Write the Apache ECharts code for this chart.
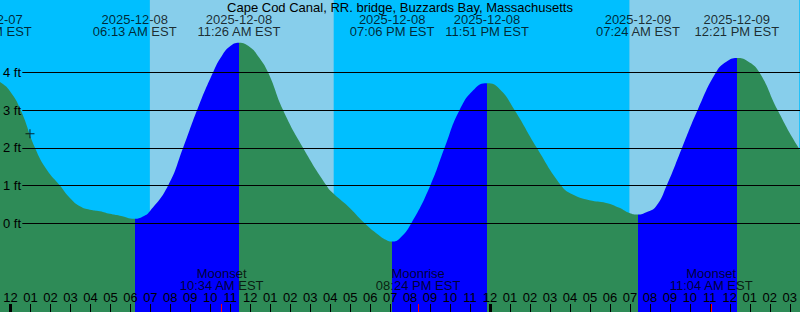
<!DOCTYPE html>
<html><head><meta charset="utf-8">
<script src="https://cdn.jsdelivr.net/npm/echarts@6/dist/echarts.min.js"></script>
<style>html,body{margin:0;padding:0;background:#00BFFF}#c{width:800px;height:312px}</style>
</head><body><div id="c"></div><script>
const titleText = 'Cape Cod Canal, RR. bridge, Buzzards Bay, Massachusetts';
// time axis: hours from 2025-12-08 00:00 EST
const tideHours = [-1.075, -0.525, -0.025, 0.51, 1.225, 1.825, 2.475, 2.975, 3.475, 3.975, 4.475, 4.975, 5.475, 6.217, 6.625, 6.975, 7.89, 8.64, 9.34, 10.14, 10.575, 10.975, 11.433, 11.975, 12.375, 12.89, 13.64, 14.64, 15.81, 16.175, 16.89, 17.725, 18.39, 18.725, 19.1, 19.475, 20.06, 21.01, 21.725, 22.475, 23.225, 23.85, 24.475, 25.225, 26.34, 27.56, 28.14, 28.975, 29.81, 30.475, 30.975, 31.4, 31.825, 32.31, 32.84, 33.61, 34.39, 35.31, 35.825, 36.35, 36.875, 37.475, 38.39, 39.44, 40.475];
const tideFeet  = [3.90, 3.74, 3.50, 3.00, 2.00, 1.41, 1.00, 0.67, 0.45, 0.36, 0.32, 0.25, 0.20, 0.12, 0.18, 0.32, 1.00, 2.00, 3.00, 4.00, 4.43, 4.68, 4.78, 4.67, 4.44, 4.00, 3.00, 2.00, 1.00, 0.78, 0.45, 0.00, -0.30, -0.42, -0.48, -0.40, 0.00, 1.00, 2.00, 3.00, 3.56, 3.71, 3.56, 3.00, 2.00, 1.00, 0.76, 0.61, 0.54, 0.41, 0.27, 0.23, 0.29, 0.45, 1.00, 2.00, 3.00, 4.00, 4.28, 4.38, 4.30, 4.00, 3.00, 2.00, 1.20];
const eventHours = [-1.05, 6.217, 11.433, 19.1, 23.85, 31.4, 36.35];
const eventDates = ['2025-12-07', '2025-12-08', '2025-12-08', '2025-12-08', '2025-12-08', '2025-12-09', '2025-12-09'];
const eventClock = ['10:57 PM EST', '06:13 AM EST', '11:26 AM EST', '07:06 PM EST', '11:51 PM EST', '07:24 AM EST', '12:21 PM EST'];
const risingStart = [6.217, 19.1, 31.4];
const risingEnd = [11.433, 23.85, 36.35];
const moonHours = [10.567, 20.4, 35.067];
const moonNames = ['Moonset', 'Moonrise', 'Moonset'];
const moonClock = ['10:34 AM EST', '08:24 PM EST', '11:04 AM EST'];
const sunriseHours = [6.975, 30.975];
const sunsetHours = [16.175, 40.2];
const hourTicks = [0,1,2,3,4,5,6,7,8,9,10,11,12,13,14,15,16,17,18,19,20,21,22,23,24,25,26,27,28,29,30,31,32,33,34,35,36,37,38,39];
const hourLabels = ['12','01','02','03','04','05','06','07','08','09','10','11','12','01','02','03','04','05','06','07','08','09','10','11','12','01','02','03','04','05','06','07','08','09','10','11','12','01','02','03'];
const midnightTicks = [0, 24];
const nowPoint = [0.975, 2.37];

const X_MIN = -0.525, X_MAX = 39.475, Y_MIN = -2.35, Y_MAX = 5.915;
const TICK_FT = 8 / 37.75; // 8 px tick length in feet
const FONT = 'Liberation Sans';
const chart = echarts.init(document.getElementById('c'), null, {renderer: 'svg'});
function tickSeries(values, color, width, z) {
  return {type: 'line', xAxisIndex: 0, yAxisIndex: 0, z: z, silent: true, data: [],
    markLine: {silent: true, symbol: ['none', 'none'], animation: false, z: z,
      label: {show: false}, lineStyle: {color: color, width: width, type: 'solid', opacity: 1},
      emphasis: {disabled: true},
      data: values.map(v => [{coord: [v, Y_MIN]}, {coord: [v, Y_MIN + TICK_FT]}])}};
}
chart.setOption({
  animation: false,
  backgroundColor: '#00BFFF',
  textStyle: {fontFamily: FONT},
  title: {text: titleText, left: 'center', top: 1, padding: 0,
    textStyle: {fontFamily: FONT, fontSize: 13, fontWeight: 'normal', color: '#000'}},
  grid: [
    {left: 0, right: 0, top: 0, bottom: 0},
    {left: 22, right: 0, top: 72.3, bottom: 88.7}
  ],
  xAxis: [
    {type: 'value', gridIndex: 0, min: X_MIN, max: X_MAX, position: 'bottom', z: 6,
      axisLine: {show: false, onZero: false}, splitLine: {show: false}, axisTick: {show: false},
      axisLabel: {show: true, inside: true, margin: 8, customValues: hourTicks.slice(), color: '#000', fontSize: 13, fontFamily: FONT,
        formatter: v => hourLabels[Math.round(v)]}},
    {type: 'value', gridIndex: 1, min: 0, max: 1, show: false}
  ],
  yAxis: [
    {type: 'value', gridIndex: 0, min: Y_MIN, max: Y_MAX, show: false},
    {type: 'value', gridIndex: 1, min: 0, max: 4, interval: 1, z: 5,
      axisLine: {show: false}, axisTick: {show: false},
      axisLabel: {show: true, align: 'left', margin: 19.3, color: '#000', fontSize: 13, fontFamily: FONT, formatter: '{value} ft'},
      splitLine: {show: true, lineStyle: {color: '#000', width: 1}}}
  ],
  visualMap: {type: 'piecewise', show: false, seriesIndex: 1, dimension: 0,
    pieces: risingStart.map((s, i) => ({gte: s, lte: risingEnd[i], color: '#0000FF'})),
    outOfRange: {color: '#2E8B57'}},
  series: [
    {type: 'line', xAxisIndex: 0, yAxisIndex: 0, z: 1, silent: true, showSymbol: false,
      lineStyle: {opacity: 0}, data: tideHours.map((h, i) => [h, tideFeet[i]]),
      markArea: {silent: true, itemStyle: {color: '#87CEEB', opacity: 1},
        data: sunriseHours.map((s, i) => [{xAxis: s}, {xAxis: sunsetHours[i]}])}},
    {type: 'line', xAxisIndex: 0, yAxisIndex: 0, z: 2, smooth: 0.5, showSymbol: false, silent: true,
      lineStyle: {width: 0}, areaStyle: {origin: 'start', opacity: 1},
      data: tideHours.map((h, i) => [h, tideFeet[i]])},
    {type: 'scatter', xAxisIndex: 0, yAxisIndex: 0, z: 8, symbolSize: 0, clip: false, silent: true,
      data: eventHours.map((h, i) => ({value: [h, Y_MAX], date: eventDates[i], clock: eventClock[i]})),
      label: {show: true, position: 'bottom', distance: 13.5, color: '#000', fontSize: 13, fontFamily: FONT, lineHeight: 12, align: 'center',
        formatter: p => p.data.date + '\n' + p.data.clock}},
    {type: 'scatter', xAxisIndex: 0, yAxisIndex: 0, z: 8, symbolSize: 0, clip: false, silent: true,
      data: moonHours.map((h, i) => ({value: [h, Y_MIN], name2: moonNames[i], clock: moonClock[i]})),
      label: {show: true, position: 'top', distance: 20.3, color: '#000', fontSize: 13, fontFamily: FONT, lineHeight: 12, align: 'center',
        formatter: p => p.data.name2 + '\n' + p.data.clock}},
    {type: 'scatter', xAxisIndex: 0, yAxisIndex: 0, z: 8, silent: true,
      symbol: 'path://M0,4h9v1h-9zM4,0h1v9h-1z', symbolSize: 9,
      itemStyle: {color: '#000'}, data: [nowPoint]},
    tickSeries(hourTicks, '#000000', 1, 20),
    tickSeries(midnightTicks, '#000000', 3, 21),
    tickSeries(moonHours, '#FF0000', 1, 22)
  ]
});
</script></body></html>
